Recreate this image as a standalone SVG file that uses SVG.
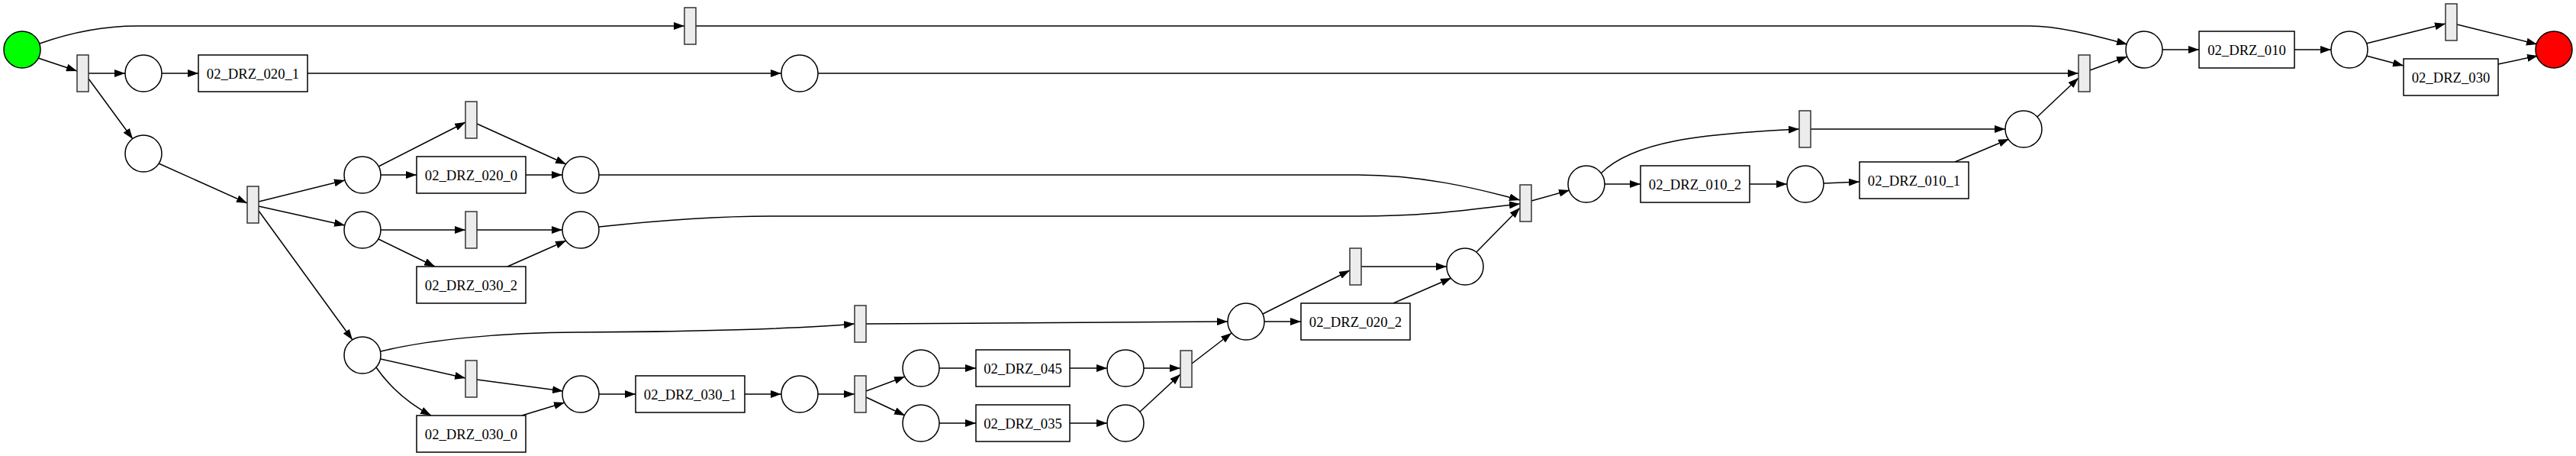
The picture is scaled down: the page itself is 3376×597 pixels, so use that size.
<svg xmlns="http://www.w3.org/2000/svg" width="3376" height="597" viewBox="0 0 3376 597">
<style>
.p{fill:#fff;stroke:#000;stroke-width:1.5}
.t{fill:#ececec;stroke:#333;stroke-width:1.5}
.b{fill:#fff;stroke:#000;stroke-width:1.5}
.l{font-family:"Liberation Serif","Times New Roman",serif;font-size:18.67px;text-anchor:middle;fill:#000}
#edges path{fill:none;stroke:#000;stroke-width:1.5;marker-end:url(#ah)}
</style>
<defs>
<marker id="ah" markerUnits="userSpaceOnUse" markerWidth="14" markerHeight="10" refX="14" refY="5" orient="auto">
<path d="M0,0 L14,5 L0,10 z" fill="#000"/>
</marker>
</defs>
<rect width="3376" height="597" fill="#fff"/>
<g id="edges">
<path d="M52,57 C100,40 140,34 180,34 L897,34"/>
<path d="M912,34 L2660,34 C2700,34 2750,48 2788,58"/>
<path d="M50,76 L101,93"/>
<path d="M116,96 L164,96"/>
<path d="M116,103 L174,182"/>
<path d="M212,96 L260,96"/>
<path d="M403,96 L1024,96"/>
<path d="M1072,96 L2724,96"/>
<path d="M208,214 L324,266"/>
<path d="M339,264 L452,236"/>
<path d="M339,270 L452,295"/>
<path d="M339,276 L462,445"/>
<path d="M496,218 L610,160"/>
<path d="M499,229 L546,229"/>
<path d="M625,162 L742,215"/>
<path d="M689,229 L737,229"/>
<path d="M499,301 L610,301"/>
<path d="M496,313 L570,349"/>
<path d="M625,301 L737,301"/>
<path d="M665,349 L742,315"/>
<path d="M499,470 L610,495"/>
<path d="M493,481 Q520,520 565,544"/>
<path d="M499,460 C560,445 660,435 757,435 C900,435 1050,430 1120,424"/>
<path d="M625,497 L738,512"/>
<path d="M684,544 L740,527"/>
<path d="M785,516 L833,516"/>
<path d="M976,516 L1024,516"/>
<path d="M1072,516 L1120,516"/>
<path d="M1135,512 L1186,493"/>
<path d="M1135,520 L1186,544"/>
<path d="M1231,482 L1279,482"/>
<path d="M1231,554 L1279,554"/>
<path d="M1402,482 L1451,482"/>
<path d="M1402,554 L1451,554"/>
<path d="M1499,482 L1547,482"/>
<path d="M1494,539 L1547,490"/>
<path d="M1562,476 L1614,436"/>
<path d="M1135,424 L1609,421"/>
<path d="M1655,411 L1769,354"/>
<path d="M1657,421 L1705,421"/>
<path d="M1784,349 L1896,349"/>
<path d="M1826,397 L1902,364"/>
<path d="M1935,330 L1992,272"/>
<path d="M785,229 L1780,229 C1860,229 1930,245 1992,262"/>
<path d="M785,297 C850,290 940,283 1010,283 L1780,283 C1880,283 1940,272 1992,267"/>
<path d="M2007,263 L2057,249"/>
<path d="M2098,227 C2140,185 2230,175 2358,169"/>
<path d="M2103,241 L2150,241"/>
<path d="M2293,241 L2342,241"/>
<path d="M2390,240 L2437,238"/>
<path d="M2373,169 L2628,169"/>
<path d="M2562,212 L2633,182"/>
<path d="M2670,153 L2724,102"/>
<path d="M2739,92 L2788,74"/>
<path d="M2834,65 L2882,65"/>
<path d="M3007,65 L3055,65"/>
<path d="M3101,57 L3205,31"/>
<path d="M3101,73 L3150,86"/>
<path d="M3220,32 L3325,58"/>
<path d="M3274,84 L3326,73"/>
</g>
<g id="source"><circle cx="29" cy="65" r="24" fill="#00ff00" stroke="#000" stroke-width="1.5"/></g>
<g id="sink"><circle cx="3347" cy="65" r="24" fill="#ff0000" stroke="#000" stroke-width="1.5"/></g>
<g id="t1"><rect class="t" x="101" y="72" width="15" height="48"/></g>
<g id="t2"><rect class="t" x="324" y="244" width="15" height="48"/></g>
<g id="t3"><rect class="t" x="610" y="133" width="15" height="48"/></g>
<g id="t4"><rect class="t" x="610" y="277" width="15" height="48"/></g>
<g id="t5"><rect class="t" x="610" y="472" width="15" height="48"/></g>
<g id="t6"><rect class="t" x="897" y="10" width="15" height="48"/></g>
<g id="t7"><rect class="t" x="1120" y="400" width="15" height="48"/></g>
<g id="t8"><rect class="t" x="1120" y="492" width="15" height="48"/></g>
<g id="t9"><rect class="t" x="1547" y="459" width="15" height="48"/></g>
<g id="t10"><rect class="t" x="1769" y="325" width="15" height="48"/></g>
<g id="t11"><rect class="t" x="1992" y="242" width="15" height="48"/></g>
<g id="t12"><rect class="t" x="2358" y="145" width="15" height="48"/></g>
<g id="t13"><rect class="t" x="2724" y="72" width="15" height="48"/></g>
<g id="t14"><rect class="t" x="3205" y="5" width="15" height="48"/></g>
<g id="p1"><circle class="p" cx="188" cy="96" r="24"/></g>
<g id="p2"><circle class="p" cx="188" cy="201" r="24"/></g>
<g id="p3"><circle class="p" cx="475" cy="229" r="24"/></g>
<g id="p4"><circle class="p" cx="475" cy="301" r="24"/></g>
<g id="p5"><circle class="p" cx="475" cy="465" r="24"/></g>
<g id="p6"><circle class="p" cx="1048" cy="96" r="24"/></g>
<g id="p7"><circle class="p" cx="761" cy="229" r="24"/></g>
<g id="p8"><circle class="p" cx="761" cy="301" r="24"/></g>
<g id="p9"><circle class="p" cx="761" cy="516" r="24"/></g>
<g id="p10"><circle class="p" cx="1048" cy="516" r="24"/></g>
<g id="p11"><circle class="p" cx="1207" cy="482" r="24"/></g>
<g id="p12"><circle class="p" cx="1207" cy="554" r="24"/></g>
<g id="p13"><circle class="p" cx="1475" cy="482" r="24"/></g>
<g id="p14"><circle class="p" cx="1475" cy="554" r="24"/></g>
<g id="p15"><circle class="p" cx="1633" cy="421" r="24"/></g>
<g id="p16"><circle class="p" cx="1920" cy="349" r="24"/></g>
<g id="p17"><circle class="p" cx="2079" cy="241" r="24"/></g>
<g id="p18"><circle class="p" cx="2366" cy="241" r="24"/></g>
<g id="p19"><circle class="p" cx="2652" cy="169" r="24"/></g>
<g id="p20"><circle class="p" cx="2810" cy="65" r="24"/></g>
<g id="p21"><circle class="p" cx="3079" cy="65" r="24"/></g>
<g id="b020_1"><rect class="b" x="260" y="72" width="143" height="48"/><text class="l" x="331.5" y="102.5">02_DRZ_020_1</text></g>
<g id="b020_0"><rect class="b" x="546" y="205" width="143" height="48"/><text class="l" x="617.5" y="235.5">02_DRZ_020_0</text></g>
<g id="b030_2"><rect class="b" x="546" y="349" width="143" height="48"/><text class="l" x="617.5" y="379.5">02_DRZ_030_2</text></g>
<g id="b030_0"><rect class="b" x="546" y="544" width="143" height="48"/><text class="l" x="617.5" y="574.5">02_DRZ_030_0</text></g>
<g id="b030_1"><rect class="b" x="833" y="492" width="143" height="48"/><text class="l" x="904.5" y="522.5">02_DRZ_030_1</text></g>
<g id="b045"><rect class="b" x="1279" y="458" width="123" height="48"/><text class="l" x="1340.5" y="488.5">02_DRZ_045</text></g>
<g id="b035"><rect class="b" x="1279" y="530" width="123" height="48"/><text class="l" x="1340.5" y="560.5">02_DRZ_035</text></g>
<g id="b020_2"><rect class="b" x="1705" y="397" width="143" height="48"/><text class="l" x="1776.5" y="427.5">02_DRZ_020_2</text></g>
<g id="b010_2"><rect class="b" x="2150" y="217" width="143" height="48"/><text class="l" x="2221.5" y="247.5">02_DRZ_010_2</text></g>
<g id="b010_1"><rect class="b" x="2437" y="212" width="143" height="48"/><text class="l" x="2508.5" y="242.5">02_DRZ_010_1</text></g>
<g id="b010"><rect class="b" x="2882" y="41" width="125" height="48"/><text class="l" x="2944.5" y="71.5">02_DRZ_010</text></g>
<g id="b030"><rect class="b" x="3150" y="77" width="124" height="48"/><text class="l" x="3212" y="107.5">02_DRZ_030</text></g>
</svg>
